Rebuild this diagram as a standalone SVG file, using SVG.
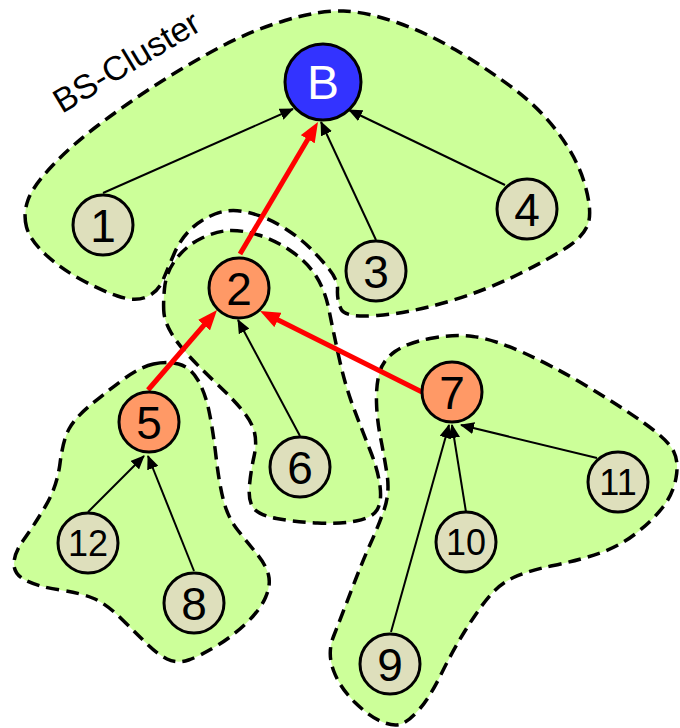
<svg xmlns="http://www.w3.org/2000/svg" width="680" height="728" viewBox="0 0 680 728">
<defs>
<style>
.cl{fill:#CCFF99;stroke:#000;stroke-width:3.5;stroke-dasharray:13 7}
.e{stroke:#000;stroke-width:2;fill:none;marker-end:url(#ah)}
.r{stroke:#FF0000;stroke-width:5;fill:none;marker-end:url(#ar)}
.n circle{stroke:#000;stroke-width:3}
.g circle{fill:#DEDFBC}
.o circle{fill:#FF9966}
.b circle{fill:#3333FF}
text{font-family:"Liberation Sans",Arial,sans-serif;text-anchor:middle;fill:#000}
.d1{font-size:46px}
.d2{font-size:36px}
</style>
<marker id="ah" markerUnits="userSpaceOnUse" markerWidth="14" markerHeight="12" refX="13" refY="6" orient="auto"><path d="M0,0 L14,6 L0,12 z" fill="#000"/></marker>
<marker id="ar" markerUnits="userSpaceOnUse" markerWidth="20" markerHeight="16" refX="12" refY="8" orient="auto"><path d="M0,0 L20,8 L0,16 z" fill="#FF0000"/></marker>
</defs>
<g id="clusters">
<path id="cluster-bs" class="cl" d="M26.5,227 Q23,214 28,200 Q33,186 52.5,165.5 Q72,145 98.5,125 Q125,105 155,85.5 Q185,66 217.5,48.5 Q250,31 285,20.5 Q320,10 343.5,11 Q367,12 397,22.5 Q427,33 455,49.5 Q483,66 511.5,87 Q540,108 559,134 Q578,160 585,185 Q592,210 588.5,222.5 Q585,235 569,246 Q553,257 520,273.5 Q487,290 448.5,301.5 Q410,313 377.5,315.5 Q345,318 341,309 Q337,300 337.5,290 Q338,280 329,269 Q320,258 310,248 Q300,238 283.5,227.5 Q267,217 248.5,212.5 Q230,208 215,214 Q200,220 190,230 Q180,240 174,254 Q168,268 163,280 Q158,292 146.5,297 Q135,302 117.5,296 Q100,290 80,279 Q60,268 45,254 Q30,240 26.5,227 Z"/>
<path id="cluster-2" class="cl" d="M164,313.5 Q163,305 164.5,288.5 Q166,272 176.5,258.5 Q187,245 202,238 Q217,231 229.5,230.5 Q242,230 258.5,235 Q275,240 291,251 Q307,262 316,276 Q325,290 329,310 Q333,330 339,357.5 Q345,385 353.5,407.5 Q362,430 370,450 Q378,470 380,486 Q382,502 377,510 Q372,518 356,521 Q340,524 317.5,523 Q295,522 276.5,518.5 Q258,515 253,507.5 Q248,500 249.5,485 Q251,470 254,456.5 Q257,443 254.5,432.5 Q252,422 242,410 Q232,398 216,383 Q200,368 188.5,355.5 Q177,343 171,332.5 Q165,322 164,313.5 Z"/>
<path id="cluster-5" class="cl" d="M153.5,364 Q167,361 178.5,364 Q190,367 197.5,379.5 Q205,392 209,411 Q213,430 216,456.5 Q219,483 223.5,500.5 Q228,518 238,530.5 Q248,543 257,554 Q266,565 268.5,575 Q271,585 265.5,597.5 Q260,610 246.5,623 Q233,636 216.5,646 Q200,656 188.5,660 Q177,664 167,659 Q157,654 145,642 Q133,630 119,616.5 Q105,603 92.5,598 Q80,593 60,590 Q40,587 27,581 Q14,575 14,564 Q14,553 23.5,540 Q33,527 45,507 Q57,487 60,463.5 Q63,440 69,429 Q75,418 90,405.5 Q105,393 122.5,380 Q140,367 153.5,364 Z"/>
<path id="cluster-7" class="cl" d="M379.5,372.5 Q383,360 395,351.5 Q407,343 430,338.5 Q453,334 473,336.5 Q493,339 523,352.5 Q553,366 586.5,386 Q620,406 644,423 Q668,440 673.5,451 Q679,462 676,478 Q673,494 663,507 Q653,520 636.5,533 Q620,546 600,553 Q580,560 553.5,565.5 Q527,571 513.5,577.5 Q500,584 490,595.5 Q480,607 466.5,628.5 Q453,650 441.5,673.5 Q430,697 420,708.5 Q410,720 402.5,723.5 Q395,727 382.5,722 Q370,717 355,702.5 Q340,688 333.5,670.5 Q327,653 333.5,636.5 Q340,620 351.5,590 Q363,560 370.5,543.5 Q378,527 384,510 Q390,493 387,474 Q384,455 380.5,437.5 Q377,420 376.5,402.5 Q376,385 379.5,372.5 Z"/>
<text id="cluster-label" x="62" y="114" transform="rotate(-31 62 114)" style="font-size:34px;text-anchor:start">BS-Cluster</text>
</g>
<g id="connectors">
<line class="e" x1="103" y1="193" x2="293" y2="109"/>
<line class="e" x1="376" y1="240" x2="321" y2="122"/>
<line class="e" x1="505" y1="185" x2="349" y2="110"/>
<line class="e" x1="300" y1="436" x2="238" y2="320"/>
<line class="e" x1="88" y1="512" x2="144" y2="456"/>
<line class="e" x1="194" y1="571" x2="148" y2="456"/>
<line class="e" x1="391" y1="632" x2="449" y2="425"/>
<line class="e" x1="466" y1="512" x2="452" y2="425"/>
<line class="e" x1="597" y1="458" x2="461" y2="425"/>
<line class="r" x1="240" y1="254" x2="313.9" y2="128.9"/>
<line class="r" x1="148" y1="390" x2="211.8" y2="316.1"/>
<line class="r" x1="422" y1="392" x2="267.2" y2="314.6"/>
</g>
<g id="node-B" class="n b"><circle cx="323" cy="82" r="38"/><text x="323" y="99" style="font-size:48px;fill:#fff">B</text></g>
<g id="node-1" class="n g"><circle cx="103" cy="225" r="30"/><text class="d1" x="103" y="241.5">1</text></g>
<g id="node-2" class="n o"><circle cx="239" cy="288" r="30"/><text class="d1" x="239" y="304.5">2</text></g>
<g id="node-3" class="n g"><circle cx="376" cy="271" r="30"/><text class="d1" x="376" y="287.5">3</text></g>
<g id="node-4" class="n g"><circle cx="527" cy="209" r="30"/><text class="d1" x="527" y="225.5">4</text></g>
<g id="node-5" class="n o"><circle cx="149" cy="422" r="30"/><text class="d1" x="149" y="438.5">5</text></g>
<g id="node-6" class="n g"><circle cx="300" cy="467" r="30"/><text class="d1" x="300" y="483.5">6</text></g>
<g id="node-7" class="n o"><circle cx="452" cy="392" r="30"/><text class="d1" x="452" y="408.5">7</text></g>
<g id="node-8" class="n g"><circle cx="194" cy="603" r="30"/><text class="d1" x="194" y="619.5">8</text></g>
<g id="node-9" class="n g"><circle cx="390" cy="664" r="30"/><text class="d1" x="390" y="680.5">9</text></g>
<g id="node-10" class="n g"><circle cx="466" cy="542" r="30"/><text class="d2" x="466" y="555">10</text></g>
<g id="node-11" class="n g"><circle cx="618" cy="482" r="30"/><text class="d2" x="618" y="495">11</text></g>
<g id="node-12" class="n g"><circle cx="88" cy="543" r="30"/><text class="d2" x="88" y="556">12</text></g>
</svg>
